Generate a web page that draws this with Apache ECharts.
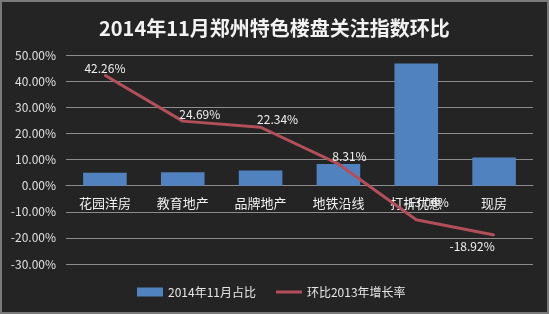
<!DOCTYPE html>
<html><head><meta charset="utf-8">
<script src="https://cdn.jsdelivr.net/npm/echarts@6/dist/echarts.min.js"></script>
<style>html,body{margin:0;padding:0;background:#fff}#c{width:549px;height:314px;box-sizing:border-box;border:2px solid #7a7a7a;background:#242424}</style>
</head><body><div id="c"></div>
<script>
const categories = ['花园洋房','教育地产','品牌地产','地铁沿线','打折优惠','现房'];
const shareValues = [4.9, 5.1, 5.8, 8.3, 46.7, 10.8];
const growthValues = [42.26, 24.69, 22.34, 8.31, -13.06, -18.92];
const yTicks = {min: -30, max: 50, interval: 10};

// label placement (style only): [dx, dy, position]
const labelPlace = [[0, 0, 'top'], [17, 0, 'top'], [17, -1, 'top'], [11, 0, 'top'], [10, -10, 'top'], [-22, 4, 'bottom']];

const chart = echarts.init(document.getElementById('c'));
const font = '"Noto Sans CJK SC", "Noto Sans", sans-serif';
const lineColor = '#b24f58';
chart.setOption({
  backgroundColor: '#242424',
  animation: false,
  title: {text: '2014年11月郑州特色楼盘关注指数环比', left: 92, top: 11,
    textStyle: {color: '#f2f2f2', fontSize: 20, fontWeight: 'bold', fontFamily: font}},
  grid: {left: 64, right: 14, top: 53, bottom: 48},
  legend: {bottom: 9, left: 130, itemGap: 20, itemWidth: 26, itemHeight: 9,
    textStyle: {color: '#e6e6e6', fontSize: 12, fontFamily: font},
    data: [{name: '2014年11月占比', icon: 'rect'},
           {name: '环比2013年增长率', icon: 'path://M0,0 L26,0 L26,3 L0,3 Z',
            itemStyle: {color: lineColor, opacity: 1}}]},
  xAxis: {type: 'category', data: categories,
    axisLine: {show: true, onZero: false, lineStyle: {color: '#8c8c8c'}},
    axisTick: {show: false},
    axisLabel: {color: '#f0f0f0', fontSize: 13, fontFamily: font, margin: 11}},
  yAxis: {type: 'value', min: yTicks.min, max: yTicks.max, interval: yTicks.interval,
    axisLine: {show: false}, axisTick: {show: false},
    axisLabel: {color: '#e0e0e0', fontSize: 12, fontFamily: font, margin: 10,
      formatter: v => v.toFixed(2) + '%'},
    splitLine: {lineStyle: {color: '#8c8c8c', width: 1}}},
  series: [
    {name: '2014年11月占比', type: 'bar', data: shareValues, barWidth: '56%',
      itemStyle: {color: '#5082c0'}},
    {name: '环比2013年增长率', type: 'line',
      data: growthValues.map((v, i) => ({value: v,
        label: {position: labelPlace[i][2], offset: [labelPlace[i][0], labelPlace[i][1]]}})),
      symbol: 'circle', symbolSize: 2, showSymbol: true,
      lineStyle: {color: lineColor, width: 3}, itemStyle: {color: lineColor},
      label: {show: true, color: '#f0f0f0', fontSize: 12, fontFamily: font,
        formatter: p => p.value.toFixed(2) + '%', distance: 0}, z: 3}
  ]
});
// place the category axis on the zero line
const zeroY = chart.convertToPixel({yAxisIndex: 0}, 0);
const bottomY = chart.convertToPixel({yAxisIndex: 0}, yTicks.min);
chart.setOption({xAxis: {offset: -(bottomY - zeroY)}});
</script></body></html>
